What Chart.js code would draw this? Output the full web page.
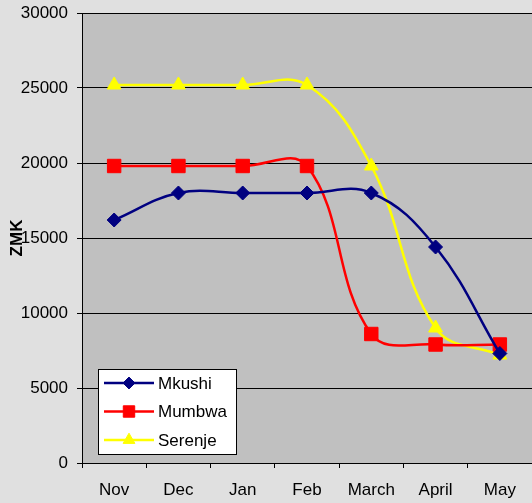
<!DOCTYPE html>
<html>
<head>
<meta charset="utf-8">
<script src="https://cdn.jsdelivr.net/npm/chart.js@4/dist/chart.umd.min.js"></script>
<style>
html, body { margin: 0; padding: 0; background: #e0e0e0; }
#wrap { position: relative; width: 532px; height: 503px; }
</style>
</head>
<body>
<div id="wrap"><canvas id="priceChart"></canvas></div>
<script>
// Chart data
const months = ['Nov', 'Dec', 'Jan', 'Feb', 'March', 'April', 'May'];
const mkushi = [16200, 18000, 18000, 18000, 18000, 14400, 7300];
const mumbwa = [19800, 19800, 19800, 19800, 8600, 7900, 7900];
const serenje = [25200, 25200, 25200, 25200, 19800, 9000, 7200];
const yTicks = [0, 5000, 10000, 15000, 20000, 25000, 30000];

const seriesNames = ['Mkushi', 'Mumbwa', 'Serenje'];
const seriesColors = ['#000080', '#ff0000', '#ffff00'];
const seriesMarkers = ['rectRot', 'rect', 'triangle'];
const markerSizes = [7, 9.5, 8];

const FONT = "'Liberation Sans', Arial, sans-serif";

// grey plot area
const plotBackground = {
    id: 'plotBackground',
    beforeDraw(chart) {
        const { ctx, chartArea: a } = chart;
        ctx.save();
        ctx.fillStyle = '#c0c0c0';
        ctx.fillRect(a.left, a.top, a.right - a.left, a.bottom - a.top);
        ctx.restore();
    }
};

// boxed legend inside the plot, lower left
const insideLegend = {
    id: 'insideLegend',
    afterDraw(chart) {
        const { ctx, chartArea: a } = chart;
        const boxW = 138, rowH = 28.5, boxH = 85;
        const x0 = a.left + 16, y0 = a.bottom - 9 - boxH;
        ctx.save();
        ctx.fillStyle = '#ffffff';
        ctx.fillRect(x0, y0, boxW, boxH);
        ctx.strokeStyle = '#000000';
        ctx.lineWidth = 1;
        ctx.strokeRect(Math.round(x0) + 0.5, Math.round(y0) + 0.5, boxW, boxH);
        chart.data.datasets.forEach((ds, i) => {
            const y = y0 + 14 + i * rowH;
            ctx.strokeStyle = ds.borderColor;
            ctx.lineWidth = 2.5;
            ctx.beginPath();
            ctx.moveTo(x0 + 6, y);
            ctx.lineTo(x0 + 56, y);
            ctx.stroke();
            ctx.fillStyle = ds.borderColor;
            ctx.strokeStyle = ds.borderColor;
            ctx.lineWidth = 1;
            Chart.helpers.drawPoint(ctx, {
                pointStyle: ds.pointStyle,
                radius: ds.pointRadius * 0.85,
                rotation: 0,
                borderWidth: 1
            }, x0 + 31, y);
            ctx.fillStyle = '#000000';
            ctx.font = '17px ' + FONT;
            ctx.textAlign = 'left';
            ctx.textBaseline = 'middle';
            ctx.fillText(ds.label, x0 + 60, y + 1);
        });
        ctx.restore();
    }
};

const seriesData = [mkushi, mumbwa, serenje];

const datasets = seriesData.map((values, i) => ({
    label: seriesNames[i],
    data: values,
    borderColor: seriesColors[i],
    backgroundColor: seriesColors[i],
    borderWidth: 2.5,
    pointStyle: seriesMarkers[i],
    pointRadius: markerSizes[i],
    pointBorderWidth: 1,
    pointBackgroundColor: seriesColors[i],
    pointBorderColor: seriesColors[i],
    tension: 0.4,
    fill: false
}));

new Chart(document.getElementById('priceChart'), {
    type: 'line',
    data: { labels: months, datasets: datasets },
    plugins: [plotBackground, insideLegend],
    options: {
        responsive: true,
        maintainAspectRatio: false,
        animation: false,
        layout: { autoPadding: false, padding: { top: 13, right: 0, bottom: 0, left: 0 } },
        plugins: {
            legend: { display: false },
            tooltip: { enabled: false }
        },
        scales: {
            x: {
                offset: true,
                grid: {
                    offset: true,
                    drawOnChartArea: false,
                    drawTicks: true,
                    tickLength: 5,
                    color: '#000000'
                },
                border: { display: true, color: '#000000', width: 1 },
                ticks: {
                    color: '#000000',
                    font: { family: FONT, size: 17 },
                    padding: 12,
                    maxRotation: 0,
                    autoSkip: false
                },
                afterFit(scale) {
                    scale.height = 40;
                    scale.paddingLeft = 0;
                    scale.paddingRight = 0;
                }
            },
            y: {
                min: 0,
                max: 30000,
                afterBuildTicks(scale) {
                    scale.ticks = yTicks.map(v => ({ value: v }));
                },
                grid: {
                    color: '#000000',
                    tickLength: 5,
                    drawTicks: true
                },
                border: { display: true, color: '#000000', width: 1 },
                ticks: {
                    color: '#000000',
                    font: { family: FONT, size: 17 },
                    padding: 9,
                    callback: v => String(v)
                },
                title: {
                    display: true,
                    text: 'ZMK',
                    color: '#000000',
                    font: { family: FONT, size: 17, weight: 'bold' },
                    padding: 7
                },
                afterFit(scale) {
                    scale.width = 82;
                    scale.paddingTop = 0;
                    scale.paddingBottom = 0;
                }
            }
        }
    }
});
</script>
</body>
</html>
